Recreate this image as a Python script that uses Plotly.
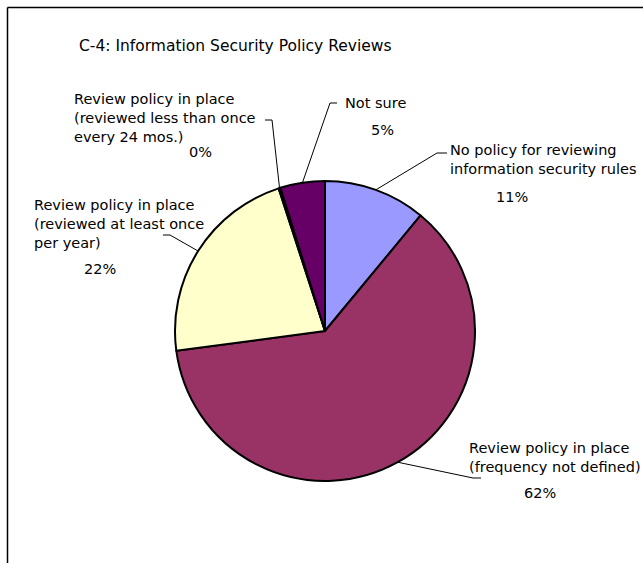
import math
import plotly.graph_objects as go

# Survey results: share of respondents per review-policy category
categories = [
    "No policy for reviewing information security rules",
    "Review policy in place (frequency not defined)",
    "Review policy in place (reviewed at least once per year)",
    "Review policy in place (reviewed less than once every 24 mos.)",
    "Not sure",
]
shares = [11.0, 61.9, 22.1, 0.2, 4.8]
colors = ["#9999FF", "#993366", "#FFFFCC", "#CCFFFF", "#660066"]

# Label text lines shown beside each slice
label_lines = [
    ["No policy for reviewing", "information security rules"],
    ["Review policy in place", "(frequency not defined)"],
    ["Review policy in place", "(reviewed at least once", "per year)"],
    ["Review policy in place", "(reviewed less than once", "every 24 mos.)"],
    ["Not sure"],
]

W, H = 643, 563
CX, CY, R = 325, 331, 150
FONT = "DejaVu Sans"
FS = 14.5
LINE = 1.3 * FS  # plotly's multi-line spacing


def px(x):
    return x / W


def py(y):
    return 1 - y / H


fig = go.Figure(
    go.Pie(
        labels=categories,
        values=shares,
        sort=False,
        direction="clockwise",
        rotation=0,
        marker=dict(colors=colors, line=dict(color="black", width=2)),
        textinfo="none",
        hoverinfo="label+percent",
        showlegend=False,
        domain=dict(x=[px(CX - R), px(CX + R)], y=[py(CY + R), py(CY - R)]),
    )
)

# Label block layout: (left x, first line y, pct centre x, pct y, leader path)
blocks = [
    (448, 150, 512, 197, [(447, 153), (437, 153)]),
    (467, 448, 540, 493, [(481, 478), (473, 478)]),
    (32, 205, 100, 269, [(163, 235), (170, 235)]),
    (72, 99, 200, 152, [(265, 120), (272, 120)]),
    (343, 103, 382, 130, [(337, 103), (330, 103)]),
]

total = sum(shares)
cum = 0.0
shapes = []
annotations = []
for i, v in enumerate(shares):
    mid = (cum + v / 2) / total * 2 * math.pi
    cum += v
    ex = CX + R * math.sin(mid)
    ey = CY - R * math.cos(mid)
    lx, ly, pcx, pcy, path = blocks[i]
    n = len(label_lines[i])
    annotations.append(dict(
        x=px(lx), y=py(ly + (n - 1) * LINE / 2), xref="paper", yref="paper",
        text="<br>".join(label_lines[i]), showarrow=False,
        xanchor="left", yanchor="middle", align="left",
        font=dict(family=FONT, size=FS, color="black"),
    ))
    annotations.append(dict(
        x=px(pcx), y=py(pcy), xref="paper", yref="paper",
        text=f"{v / total * 100:.0f}%", showarrow=False,
        xanchor="center", yanchor="middle",
        font=dict(family=FONT, size=FS, color="black"),
    ))
    pts = path + [(ex, ey)]
    d = "M " + " L ".join(f"{px(x)},{py(y)}" for x, y in pts)
    shapes.append(dict(type="path", path=d, xref="paper", yref="paper",
                       line=dict(color="black", width=1)))

annotations.append(dict(
    x=px(77), y=py(46), xref="paper", yref="paper",
    text="C-4: Information Security Policy Reviews", showarrow=False,
    xanchor="left", yanchor="middle",
    font=dict(family=FONT, size=15.5, color="black"),
))

# Chart-area frame (left and top edges)
shapes.append(dict(type="line", xref="paper", yref="paper",
                   x0=px(7.5), y0=py(7.5), x1=px(7.5), y1=-0.1,
                   line=dict(color="black", width=1.5)))
shapes.append(dict(type="line", xref="paper", yref="paper",
                   x0=px(7.5), y0=py(7.5), x1=1.1, y1=py(7.5),
                   line=dict(color="black", width=1.5)))

fig.update_layout(
    width=W, height=H,
    margin=dict(l=0, r=0, t=0, b=0),
    paper_bgcolor="white", plot_bgcolor="white",
    shapes=shapes, annotations=annotations,
)

fig.write_html("out.html")
